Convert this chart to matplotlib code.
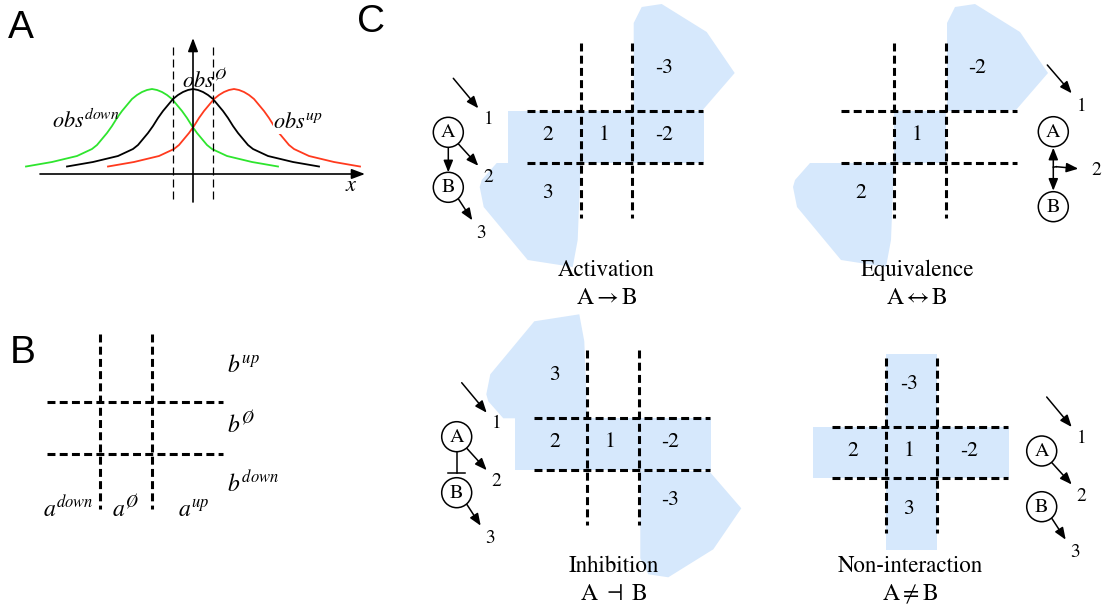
import numpy as np
import matplotlib.pyplot as plt
from matplotlib.patches import Polygon, Circle

plt.rcParams['mathtext.fontset'] = 'stix'
plt.rcParams['font.family'] = ['STIXGeneral', 'DejaVu Serif']

# ---- panel A: bump profile (px offset from peak, px height)
profile_dx = [-126, -100, -75, -60, -55, -50, -45, -40, -35, -30, -25, -20, -15, -10, -5, 0]
profile_y = [166.5, 162, 156, 149, 145, 139, 133, 126, 118, 111, 105, 99, 95, 92, 90, 89]
curve_peaks = [152, 193, 234]
curve_colors = ['#2ee52e', 'black', '#ff3a1e']
curve_labels = [r'$obs^{down}$', r'$obs^{\O}$', r'$obs^{up}$']

# ---- panel B
b_row_labels = [r'$b^{up}$', r'$b^{\O}$', r'$b^{down}$']
a_col_labels = [r'$a^{down}$', r'$a^{\O}$', r'$a^{up}$']

# ---- panel C
panel_titles = ['Activation', 'Equivalence', 'Inhibition', 'Non-interaction']
panel_formulas = [r'$\mathrm{A}\rightarrow\mathrm{B}$', r'$\mathrm{A}\leftrightarrow\mathrm{B}$',
                  r'$\mathrm{A}\ \dashv\ \mathrm{B}$', r'$\mathrm{A}\neq\mathrm{B}$']
cell_labels = [
    [(-1, 0, '2'), (0, 0, '1'), (1, 0, '-2'), (1, -1, '-3'), (-1, 1, '3')],
    [(0, 0, '1'), (1, -1, '-2'), (-1, 1, '2')],
    [(-1, -1, '3'), (-1, 0, '2'), (0, 0, '1'), (1, 0, '-2'), (1, 1, '-3')],
    [(0, -1, '-3'), (-1, 0, '2'), (0, 0, '1'), (1, 0, '-2'), (0, 1, '3')],
]
panel_shapes = [['row', 'bl', 'tr'], ['center', 'bl', 'tr'], ['row', 'tl', 'br'], ['row', 'col']]
panel_links = ['activate', 'both', 'inhibit', None]

# layout (pixels)
grid_origin = [(580.7, 111), (894, 111), (587.3, 418.3), (885.7, 426.7)]
title_xy = [(606.5, 270), (917, 270), (614, 566), (910, 566)]
node_a = [(448.3, 132.3), (1053.3, 131.7), (456.7, 436.7), (1041.7, 451)]
node_b = [(448.3, 187.3), (1053.3, 206.7), (456.7, 492.7), (1041.7, 506.7)]
cell = 51.5
col_off = [-33, 23, 83]
row_off = [-43, 24, 82]

blob_bl = [(-84, 52), (-99, 69), (-101, 76), (-97, 96), (-53, 149), (-8, 156), (-3, 129), (0, 52)]
blob_tr = [(53, 0), (53, -88), (61, -104), (81, -107), (126, -79), (154, -38), (122, -1)]
blue = '#d6e8fc'

HEAD = '-|>,head_length=0.55,head_width=0.22'


def dashed(ax, xs, ys, lw=2.2, dashes=(2.6, 1.4)):
    ax.plot(xs, ys, color='k', lw=lw, dashes=dashes, solid_capstyle='butt',
            dash_capstyle='butt', zorder=3)


def grid(ax, x0, y0, s):
    for y in (y0, y0 + s):
        dashed(ax, [x0 - 53.5, x0 + s + 71], [y, y])
    for x in (x0, x0 + s):
        dashed(ax, [x, x], [y0 - 68.5, y0 + s + 55])


def arrow(ax, p0, p1, style=HEAD, lw=1.1, ms=13):
    ax.annotate('', xy=p1, xytext=p0,
                arrowprops=dict(arrowstyle=style, lw=lw, color='k', mutation_scale=ms,
                                shrinkA=0, shrinkB=0))


fig = plt.figure(figsize=(11.06, 6.06), dpi=100)
ax = fig.add_axes([0, 0, 1, 1])
ax.set_xlim(0, 1106)
ax.set_ylim(606, 0)
ax.axis('off')

# panel letters
for letter, (x, y) in zip('ABC', [(8, 28), (10, 353), (357, 22)]):
    ax.text(x, y, letter, fontsize=28, family='Liberation Sans', ha='left', va='center')

# ---------------- panel A
arrow(ax, (40, 174), (365, 174), style='-|>,head_length=0.8,head_width=0.3', lw=1.2, ms=10)
arrow(ax, (193, 202), (193, 38), style='-|>,head_length=0.8,head_width=0.3', lw=1.2, ms=10)
for x in (173, 213):
    dashed(ax, [x, x], [47, 202], lw=0.9, dashes=(6.4, 3.2))

dx_full = np.array(profile_dx + [-d for d in reversed(profile_dx[:-1])])
y_full = np.array(profile_y + list(reversed(profile_y[:-1])))
for peak, color in zip(curve_peaks, curve_colors):
    ax.plot(dx_full + peak, y_full, color=color, lw=1.3, zorder=2)

ax.text(52, 128, curve_labels[0], fontsize=16, ha='left', va='baseline', zorder=4)
ax.text(182, 88, curve_labels[1], fontsize=16, ha='left', va='baseline', zorder=4)
ax.text(273, 128.5, curve_labels[2], fontsize=16, ha='left', va='baseline', zorder=4,
        bbox=dict(fc='white', ec='none', pad=0))
ax.text(345, 191, r'$x$', fontsize=16, ha='left', va='baseline')

# ---------------- panel B
grid(ax, 100, 402, 52)
for lab, y in zip(b_row_labels, [371.7, 433, 491.7]):
    ax.text(227, y, lab, fontsize=17, ha='left', va='baseline')
for lab, x in zip(a_col_labels, [43.3, 111.7, 178.3]):
    ax.text(x, 517, lab, fontsize=17, ha='left', va='baseline')

# ---------------- panel C
for i in range(4):
    x0, y0 = grid_origin[i]
    half = cell / 2
    for shape in panel_shapes[i]:
        if shape == 'row':
            pts = [(half - 98, 0), (half + 98, 0), (half + 98, cell), (half - 98, cell)]
        elif shape == 'col':
            pts = [(0, half - 98), (cell, half - 98), (cell, half + 98), (0, half + 98)]
        elif shape == 'center':
            pts = [(0, 0), (cell, 0), (cell, cell), (0, cell)]
        elif shape == 'bl':
            pts = blob_bl
        elif shape == 'tr':
            pts = blob_tr
        elif shape == 'tl':
            pts = [(x, 52 - y) for x, y in blob_bl]
        else:
            pts = [(x, 52 - y) for x, y in blob_tr]
        ax.add_patch(Polygon([(x0 + x, y0 + y) for x, y in pts], closed=True,
                             fc=blue, ec='none', zorder=1))
    grid(ax, x0, y0, cell)
    for c, r, lab in cell_labels[i]:
        ax.text(x0 + col_off[c + 1], y0 + row_off[r + 1], lab, fontsize=15.5,
                ha='center', va='center', zorder=4)

    tx, ty = title_xy[i]
    ax.text(tx, ty, panel_titles[i], fontsize=16.5, ha='center', va='center')
    ax.text(tx, ty + 28, panel_formulas[i], fontsize=17, ha='center', va='center')

    # small network
    ax_, ay_ = node_a[i]
    bx_, by_ = node_b[i]
    for (cx, cy), name in [((ax_, ay_), 'A'), ((bx_, by_), 'B')]:
        ax.add_patch(Circle((cx, cy), 15, fc='white', ec='k', lw=1.1, zorder=4))
        ax.text(cx, cy + 0.5, name, fontsize=14.5, ha='center', va='center', zorder=5)

    if panel_links[i] == 'both':
        arrow(ax, (ax_ - 6, ay_ - 66.7), (ax_ + 18.4, ay_ - 38.4))
        ax.text(ax_ + 28.4, ay_ - 25, '1', fontsize=14, ha='center', va='center')
        arrow(ax, (ax_, ay_ + 16), (ax_, by_ - 16),
              style='<|-|>,head_length=0.55,head_width=0.22')
        ax.plot([ax_, ax_ + 3], [ay_ + 35.5, ay_ + 35], color='k', lw=1.1)
        arrow(ax, (ax_ + 3, ay_ + 35), (ax_ + 25, ay_ + 37))
        ax.text(ax_ + 43.4, ay_ + 38.3, '2', fontsize=14, ha='center', va='center')
        continue

    arrow(ax, (ax_ + 5, ay_ - 54), (ax_ + 30, ay_ - 24))
    ax.text(ax_ + 40, ay_ - 13, '1', fontsize=14, ha='center', va='center')
    arrow(ax, (ax_ + 10, ay_ + 11.5), (ax_ + 30, ay_ + 33.5))
    ax.text(ax_ + 40, ay_ + 45, '2', fontsize=14, ha='center', va='center')
    arrow(ax, (bx_ + 10, by_ + 11.5), (bx_ + 24, by_ + 33))
    ax.text(bx_ + 33, by_ + 46, '3', fontsize=14, ha='center', va='center')
    if panel_links[i] == 'activate':
        arrow(ax, (ax_, ay_ + 15), (bx_, by_ - 15))
    elif panel_links[i] == 'inhibit':
        ax.plot([ax_, ax_], [ay_ + 15, by_ - 20], color='k', lw=1.1)
        ax.plot([ax_ - 8.5, ax_ + 8.5], [by_ - 20, by_ - 20], color='k', lw=1.1)

fig.savefig('out.png', dpi=100)
